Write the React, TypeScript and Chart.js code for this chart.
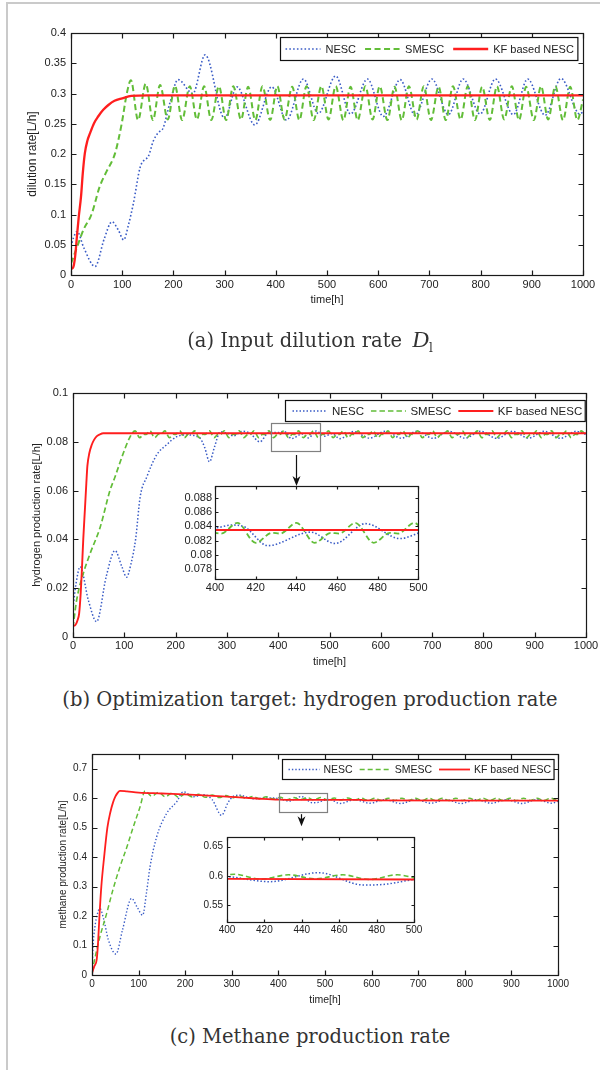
import React, { useEffect, useRef } from 'react';
import { Chart, registerables } from 'chart.js';

Chart.register(...registerables);

const SANS = "'Liberation Sans', Arial, Helvetica, sans-serif";
const SERIF = "'DejaVu Serif', serif";

const SERIES_NAMES = ['NESC', 'SMESC', 'KF based NESC'];
const TIME_TICKS = [0, 100, 200, 300, 400, 500, 600, 700, 800, 900, 1000];
const INSET_TIME_TICKS = [400, 420, 440, 460, 480, 500];

const A_Y_TICKS = [0, 0.05, 0.1, 0.15, 0.2, 0.25, 0.3, 0.35, 0.4];
const B_Y_TICKS = [0, 0.02, 0.04, 0.06, 0.08, 0.1];
const C_Y_TICKS = [0, 0.1, 0.2, 0.3, 0.4, 0.5, 0.6, 0.7];
const B_INSET_Y_TICKS = [0.078, 0.08, 0.082, 0.084, 0.086, 0.088];
const C_INSET_Y_TICKS = [0.55, 0.6, 0.65];

// ---------- (a) input dilution rate ----------
const A_NESC_T = [0, 5, 12, 25, 47, 65, 80, 92, 103, 112, 122, 135, 143, 151, 161, 170, 180, 193, 209, 238, 262, 300, 324, 359, 392, 421, 454, 483, 517, 546, 579, 610, 643, 672, 705, 737, 766, 799, 829, 864, 892, 926, 957, 994, 1000];
const A_NESC_V = [0.047, 0.062, 0.072, 0.045, 0.014, 0.060, 0.088, 0.075, 0.058, 0.082, 0.119, 0.178, 0.190, 0.196, 0.222, 0.235, 0.243, 0.284, 0.323, 0.300, 0.364, 0.259, 0.311, 0.248, 0.311, 0.256, 0.324, 0.267, 0.329, 0.266, 0.324, 0.262, 0.323, 0.264, 0.324, 0.265, 0.324, 0.266, 0.324, 0.265, 0.324, 0.264, 0.325, 0.266, 0.270];
const A_SMESC_T = [0, 10, 25, 40, 56, 70, 86, 99, 109, 117,
  131, 146, 160, 174, 189, 203, 217, 232, 246, 260,
  274, 289, 303, 317, 332, 346, 360, 374, 389, 403,
  417, 432, 446, 460, 474, 489, 503, 517, 532, 546,
  560, 575, 589, 603, 618, 632, 646, 660, 675, 689,
  703, 718, 732, 746, 761, 775, 789, 803, 818, 832,
  846, 861, 875, 889, 904, 918, 932, 946, 961, 975,
  989, 1000];
const A_SMESC_V = [0.019, 0.042, 0.076, 0.100, 0.146, 0.172, 0.201, 0.250, 0.300, 0.322,
  0.256, 0.316, 0.256, 0.314, 0.257, 0.313, 0.256, 0.312, 0.257, 0.312,
  0.256, 0.312, 0.256, 0.312, 0.257, 0.311, 0.256, 0.312, 0.256, 0.312,
  0.257, 0.311, 0.256, 0.312, 0.256, 0.312, 0.257, 0.312, 0.256, 0.311,
  0.256, 0.312, 0.257, 0.312, 0.256, 0.311, 0.256, 0.312, 0.257, 0.312,
  0.256, 0.311, 0.256, 0.312, 0.257, 0.312, 0.256, 0.311, 0.256, 0.312,
  0.257, 0.312, 0.256, 0.311, 0.256, 0.312, 0.257, 0.312, 0.256, 0.311,
  0.256, 0.290];
const A_KF_T = [0, 4, 8, 11, 15, 19.5, 23, 27, 32, 37, 45, 53, 63, 73, 85, 100, 118, 150, 1000];
const A_KF_V = [0.010, 0.012, 0.030, 0.058, 0.095, 0.129, 0.168, 0.201, 0.222, 0.234, 0.251, 0.262, 0.273, 0.281, 0.288, 0.292, 0.296, 0.297, 0.297];

// ---------- (b) hydrogen production rate ----------
const B_NESC_T = [0, 6, 14, 30, 46, 65, 82, 95, 104.5, 113, 122, 131, 144, 163, 182, 202, 222, 247, 257, 266, 276, 287, 300, 313, 330, 345, 364, 382, 400, 408, 414, 426, 447, 459, 474, 491, 505, 520, 547, 578, 609, 640, 671, 702, 733, 764, 795, 826, 857, 888, 919, 950, 981, 1000];
const B_NESC_V = [0.012, 0.022, 0.0288, 0.015, 0.0063, 0.025, 0.0354, 0.029, 0.0245, 0.030, 0.040, 0.0575, 0.0657, 0.0746, 0.0787, 0.0821, 0.0828, 0.0816, 0.0775, 0.0718, 0.078, 0.0841, 0.0836, 0.0824, 0.0843, 0.0835, 0.0800, 0.0838, 0.0838, 0.0842, 0.0840, 0.0813, 0.0832, 0.0816, 0.0844, 0.0823, 0.0834, 0.0813, 0.0842, 0.0815, 0.0843, 0.0815, 0.0843, 0.0814, 0.0843, 0.0815, 0.0843, 0.0814, 0.0843, 0.0815, 0.0843, 0.0814, 0.0843, 0.0830];
const B_SMESC_T = [0, 7, 20, 33, 53, 72, 82, 98, 110,
  121, 130, 138, 142, 150, 159, 167, 171, 179, 188, 196, 200,
  208, 217, 225, 229, 237, 246, 254, 258, 266, 275, 283, 287,
  295, 304, 312, 316, 324, 333, 341, 345, 353, 362, 370, 374,
  382, 391, 399, 403, 411, 420, 428, 432, 440, 449, 457, 461,
  469, 478, 486, 490, 498, 507, 515, 519, 527, 536, 544, 548,
  556, 565, 573, 577, 585, 594, 602, 606, 614, 623, 631, 635,
  643, 652, 660, 664, 672, 681, 689, 693, 701, 710, 718, 722,
  730, 739, 747, 751, 759, 768, 776, 780, 788, 797, 805, 809,
  817, 826, 834, 838, 846, 855, 863, 867, 875, 884, 892, 896,
  904, 913, 921, 925, 933, 942, 950, 954, 962, 971, 979, 983,
  991, 1000];
const B_SMESC_V = [0.004, 0.015, 0.026, 0.034, 0.045, 0.060, 0.0657, 0.0753, 0.0815,
  0.0845, 0.0817, 0.0831, 0.0830, 0.0845, 0.0817, 0.0831, 0.0830, 0.0845, 0.0817, 0.0831, 0.0830,
  0.0845, 0.0817, 0.0831, 0.0830, 0.0845, 0.0817, 0.0831, 0.0830, 0.0845, 0.0817, 0.0831, 0.0830,
  0.0845, 0.0817, 0.0831, 0.0830, 0.0845, 0.0817, 0.0831, 0.0830, 0.0845, 0.0817, 0.0831, 0.0830,
  0.0845, 0.0817, 0.0831, 0.0830, 0.0845, 0.0817, 0.0831, 0.0830, 0.0845, 0.0817, 0.0831, 0.0830,
  0.0845, 0.0817, 0.0831, 0.0830, 0.0845, 0.0817, 0.0831, 0.0830, 0.0845, 0.0817, 0.0831, 0.0830,
  0.0845, 0.0817, 0.0831, 0.0830, 0.0845, 0.0817, 0.0831, 0.0830, 0.0845, 0.0817, 0.0831, 0.0830,
  0.0845, 0.0817, 0.0831, 0.0830, 0.0845, 0.0817, 0.0831, 0.0830, 0.0845, 0.0817, 0.0831, 0.0830,
  0.0845, 0.0817, 0.0831, 0.0830, 0.0845, 0.0817, 0.0831, 0.0830, 0.0845, 0.0817, 0.0831, 0.0830,
  0.0845, 0.0817, 0.0831, 0.0830, 0.0845, 0.0817, 0.0831, 0.0830, 0.0845, 0.0817, 0.0831, 0.0830,
  0.0845, 0.0817, 0.0831, 0.0830, 0.0845, 0.0817, 0.0831, 0.0830, 0.0845, 0.0817, 0.0831, 0.0830,
  0.0845, 0.0825];
const B_KF_T = [0, 5, 9, 12, 15, 17, 20, 23.4, 26, 28, 32, 36.4, 41, 46, 52, 59, 70, 1000];
const B_KF_V = [0.0045, 0.005, 0.007, 0.0097, 0.018, 0.026, 0.040, 0.053, 0.063, 0.070, 0.0755, 0.0787, 0.0808, 0.0822, 0.0830, 0.0835, 0.0835, 0.0835];

// ---------- (c) methane production rate ----------
const C_NESC_T = [0, 2, 6, 12, 17, 25, 35, 51.5, 65, 85, 97, 108.7, 117, 124.5, 138.8, 160, 181.7, 196, 218, 240, 258, 278, 292, 303, 317, 346, 375, 400, 423, 449, 473, 485, 500, 510, 532, 564, 596, 629, 662, 695, 727, 760, 792, 825, 857, 890, 922, 955, 987, 1000];
const C_NESC_V = [0.0, 0.09, 0.16, 0.21, 0.226, 0.19, 0.12, 0.071, 0.15, 0.26, 0.23, 0.203, 0.28, 0.367, 0.469, 0.548, 0.588, 0.622, 0.605, 0.612, 0.595, 0.542, 0.585, 0.606, 0.61, 0.598, 0.601, 0.599, 0.5903, 0.6057, 0.5846, 0.586, 0.594, 0.596, 0.582, 0.595, 0.583, 0.595, 0.582, 0.595, 0.583, 0.595, 0.582, 0.595, 0.583, 0.595, 0.582, 0.595, 0.583, 0.590];
const C_SMESC_T = [0, 8, 17, 31.5, 45, 60, 75, 88.7, 103, 114,
  128, 143, 157, 172, 186, 200, 215, 229, 244, 258,
  273, 287, 302, 316, 331, 345, 360, 374, 389, 404,
  418, 433, 447, 462, 476, 491, 505, 520, 534, 549,
  563, 578, 592, 607, 621, 636, 650, 665, 679, 694,
  708, 723, 737, 752, 766, 781, 795, 810, 824, 839,
  853, 868, 882, 897, 911, 926, 940, 955, 969, 984,
  998, 1000];
const C_SMESC_V = [0.010, 0.070, 0.130, 0.209, 0.290, 0.367, 0.435, 0.503, 0.570, 0.625,
  0.607, 0.620, 0.605, 0.617, 0.603, 0.615, 0.604, 0.613, 0.603, 0.611,
  0.602, 0.609, 0.601, 0.608, 0.599, 0.606, 0.598, 0.605, 0.597, 0.603,
  0.5945, 0.602, 0.595, 0.602, 0.594, 0.602, 0.5945, 0.601, 0.594, 0.601,
  0.594, 0.600, 0.5925, 0.600, 0.592, 0.600, 0.5925, 0.600, 0.592, 0.600,
  0.5925, 0.600, 0.592, 0.600, 0.5925, 0.600, 0.592, 0.600, 0.5925, 0.600,
  0.592, 0.600, 0.5925, 0.600, 0.592, 0.600, 0.5925, 0.600, 0.592, 0.600,
  0.593, 0.594];
const C_KF_T = [0, 5, 10, 13, 16, 20, 26, 33, 39, 45, 50, 55, 60, 75, 100, 150, 210, 280, 353, 400, 500, 578, 585, 1000];
const C_KF_V = [0.006, 0.030, 0.051, 0.110, 0.200, 0.300, 0.400, 0.500, 0.550, 0.585, 0.605, 0.618, 0.625, 0.623, 0.619, 0.616, 0.612, 0.606, 0.599, 0.595, 0.594, 0.594, 0.5925, 0.592];

const BLUE = '#3a5cc6';
const GREEN = '#62bd38';
const RED = '#ff1e1e';

type SeriesDef = { t: number[]; v: number[]; color: string; dash: number[]; width: number };
type LegendDef = { right: number; top: number; h: number; font: number; sample: number; padL: number; gap: number; itemGap: number; padR: number };
type PanelDef = {
  w: number; h: number;
  area: { l: number; t: number; r: number; b: number };
  x: { min: number; max: number; ticks: number[] };
  y: { min: number; max: number; ticks: number[] };
  tickFont: number; xTickPad: number; yTickPad: number; tickLen: number;
  xTitle?: { text: string; size: number; pad: number };
  yTitle?: { text: string; size: number; pad: number };
  series: SeriesDef[];
  legend?: LegendDef;
  zoom?: { x0: number; x1: number; y0: number; y1: number };
  arrow?: { x: number; y0: number; y1: number };
  whiteBg?: boolean;
};

const mk = (t: number[], v: number[], color: string, dash: number[], width: number): SeriesDef => ({ t, v, color, dash, width });

const fmt = (v: any) => {
  const n = Number(v);
  return n === 0 ? '0' : String(parseFloat(n.toFixed(4)));
};

const PANEL_A: PanelDef = {
  w: 602, h: 320,
  area: { l: 71, t: 33, r: 583, b: 275 },
  x: { min: 0, max: 1000, ticks: TIME_TICKS },
  y: { min: 0, max: 0.4, ticks: A_Y_TICKS },
  tickFont: 11, xTickPad: 3.5, yTickPad: 5, tickLen: 5,
  xTitle: { text: 'time[h]', size: 11, pad: 13.4 },
  yTitle: { text: 'dilution rate[L/h]', size: 12, pad: 25.8 },
  series: [
    mk(A_NESC_T, A_NESC_V, BLUE, [1.6, 2.2], 1.6),
    mk(A_SMESC_T, A_SMESC_V, GREEN, [6, 3.5], 2),
    mk(A_KF_T, A_KF_V, RED, [], 2.3),
  ],
  legend: { right: 6, top: 4, h: 23, font: 11, sample: 35, padL: 5, gap: 5, itemGap: 9, padR: 4 },
};

const PANEL_B: PanelDef = {
  w: 602, h: 340,
  area: { l: 73, t: 53, r: 586, b: 297 },
  x: { min: 0, max: 1000, ticks: TIME_TICKS },
  y: { min: 0, max: 0.1, ticks: B_Y_TICKS },
  tickFont: 11, xTickPad: 2.4, yTickPad: 5, tickLen: 5,
  xTitle: { text: 'time[h]', size: 11, pad: 11.4 },
  yTitle: { text: 'hydrogen production rate[L/h]', size: 11, pad: 30.4 },
  series: [
    mk(B_NESC_T, B_NESC_V, BLUE, [1.5, 2], 1.5),
    mk(B_SMESC_T, B_SMESC_V, GREEN, [5.5, 3], 1.7),
    mk(B_KF_T, B_KF_V, RED, [], 1.9),
  ],
  legend: { right: 1, top: 7, h: 21, font: 11.5, sample: 35, padL: 7, gap: 4.5, itemGap: 7, padR: 3 },
  zoom: { x0: 386, x1: 482, y0: 0.0762, y1: 0.0877 },
  arrow: { x: 435, y0: 0.0746, y1: 0.0619 },
};

const PANEL_C: PanelDef = {
  w: 602, h: 300,
  area: { l: 92, t: 34, r: 558, b: 255 },
  x: { min: 0, max: 1000, ticks: TIME_TICKS },
  y: { min: 0, max: 0.75, ticks: C_Y_TICKS },
  tickFont: 10, xTickPad: 3, yTickPad: 5, tickLen: 5,
  xTitle: { text: 'time[h]', size: 10.5, pad: 13.7 },
  yTitle: { text: 'methane production rate[L/h]', size: 10, pad: 57 },
  series: [
    mk(C_NESC_T, C_NESC_V, BLUE, [1.4, 2], 1.4),
    mk(C_SMESC_T, C_SMESC_V, GREEN, [5, 3], 1.5),
    mk(C_KF_T, C_KF_V, RED, [], 1.8),
  ],
  legend: { right: 4.7, top: 5, h: 20, font: 10.5, sample: 31, padL: 6, gap: 4, itemGap: 7, padR: 3 },
  zoom: { x0: 402, x1: 505, y0: 0.5515, y1: 0.616 },
  arrow: { x: 448, y0: 0.5458, y1: 0.505 },
};

const INSET_B: PanelDef = {
  w: 280, h: 130,
  area: { l: 65, t: 10, r: 269, b: 103 },
  x: { min: 400, max: 500, ticks: INSET_TIME_TICKS },
  y: { min: 0.0766, max: 0.0897, ticks: B_INSET_Y_TICKS },
  tickFont: 11, xTickPad: 2.4, yTickPad: 3, tickLen: 3,
  series: [
    mk(B_NESC_T, B_NESC_V, BLUE, [1.5, 2], 1.6),
    mk(B_SMESC_T, B_SMESC_V, GREEN, [5.5, 3], 1.8),
    mk(B_KF_T, B_KF_V, RED, [], 1.9),
  ],
  whiteBg: true,
};

const INSET_C: PanelDef = {
  w: 260, h: 115,
  area: { l: 57, t: 10, r: 244, b: 95 },
  x: { min: 400, max: 500, ticks: INSET_TIME_TICKS },
  y: { min: 0.5215, max: 0.6665, ticks: C_INSET_Y_TICKS },
  tickFont: 10, xTickPad: 2, yTickPad: 4, tickLen: 3,
  series: [
    mk(C_NESC_T, C_NESC_V, BLUE, [1.5, 2], 1.5),
    mk(C_SMESC_T, C_SMESC_V, GREEN, [5, 3], 1.6),
    mk(C_KF_T, C_KF_V, RED, [], 1.8),
  ],
  whiteBg: true,
};

function drawLegend(ctx: CanvasRenderingContext2D, ca: any, d: PanelDef) {
  const lg = d.legend!;
  ctx.save();
  ctx.font = `${lg.font}px ${SANS}`;
  const widths = SERIES_NAMES.map((n) => ctx.measureText(n).width);
  let w = lg.padL + lg.padR;
  widths.forEach((tw, i) => {
    w += lg.sample + lg.gap + tw + (i < widths.length - 1 ? lg.itemGap : 0);
  });
  const x0 = Math.round(ca.right - lg.right - w) + 0.5;
  const y0 = Math.round(ca.top + lg.top) + 0.5;
  ctx.fillStyle = '#ffffff';
  ctx.fillRect(x0, y0, w, lg.h);
  ctx.strokeStyle = '#111';
  ctx.lineWidth = 1.2;
  ctx.setLineDash([]);
  ctx.strokeRect(x0, y0, w, lg.h);
  const cy = y0 + lg.h / 2;
  let x = x0 + lg.padL;
  d.series.forEach((s, i) => {
    ctx.beginPath();
    ctx.setLineDash(s.dash);
    ctx.strokeStyle = s.color;
    ctx.lineWidth = s.width;
    ctx.moveTo(x, cy);
    ctx.lineTo(x + lg.sample, cy);
    ctx.stroke();
    x += lg.sample + lg.gap;
    ctx.setLineDash([]);
    ctx.fillStyle = '#222';
    ctx.textAlign = 'left';
    ctx.textBaseline = 'middle';
    ctx.fillText(SERIES_NAMES[i], x, cy + 0.5);
    x += widths[i] + lg.itemGap;
  });
  ctx.restore();
}

function framePlugin(d: PanelDef) {
  return {
    id: 'frame',
    beforeDraw(chart: any) {
      if (!d.whiteBg) return;
      const { ctx, chartArea: ca } = chart;
      ctx.save();
      ctx.fillStyle = '#ffffff';
      ctx.fillRect(ca.left, ca.top, ca.right - ca.left, ca.bottom - ca.top);
      ctx.restore();
    },
    afterDraw(chart: any) {
      const { ctx, chartArea: ca, scales } = chart;
      const sx = scales.x;
      const sy = scales.y;
      ctx.save();
      ctx.setLineDash([]);
      if (d.zoom) {
        const z = d.zoom;
        const l = Math.round(sx.getPixelForValue(z.x0)) + 0.5;
        const r = Math.round(sx.getPixelForValue(z.x1)) + 0.5;
        const t = Math.round(sy.getPixelForValue(z.y1)) + 0.5;
        const b = Math.round(sy.getPixelForValue(z.y0)) + 0.5;
        ctx.strokeStyle = '#808080';
        ctx.lineWidth = 1.2;
        ctx.strokeRect(l, t, r - l, b - t);
      }
      if (d.arrow) {
        const a = d.arrow;
        const x = Math.round(sx.getPixelForValue(a.x)) + 0.5;
        const ya = sy.getPixelForValue(a.y0);
        const yb = sy.getPixelForValue(a.y1);
        ctx.strokeStyle = '#111';
        ctx.fillStyle = '#111';
        ctx.lineWidth = 1.2;
        ctx.beginPath();
        ctx.moveTo(x, ya);
        ctx.lineTo(x, yb - 4);
        ctx.stroke();
        ctx.beginPath();
        ctx.moveTo(x, yb);
        ctx.lineTo(x - 4, yb - 10);
        ctx.lineTo(x, yb - 7);
        ctx.lineTo(x + 4, yb - 10);
        ctx.closePath();
        ctx.fill();
      }
      const L = Math.round(ca.left) + 0.5;
      const R = Math.round(ca.right) + 0.5;
      const T = Math.round(ca.top) + 0.5;
      const B = Math.round(ca.bottom) + 0.5;
      ctx.strokeStyle = '#1a1a1a';
      ctx.lineWidth = 1.2;
      ctx.strokeRect(L, T, R - L, B - T);
      ctx.beginPath();
      d.x.ticks.forEach((v) => {
        const px = Math.round(sx.getPixelForValue(v)) + 0.5;
        ctx.moveTo(px, B);
        ctx.lineTo(px, B - d.tickLen);
        ctx.moveTo(px, T);
        ctx.lineTo(px, T + d.tickLen);
      });
      d.y.ticks.forEach((v) => {
        const py = Math.round(sy.getPixelForValue(v)) + 0.5;
        ctx.moveTo(L, py);
        ctx.lineTo(L + d.tickLen, py);
        ctx.moveTo(R, py);
        ctx.lineTo(R - d.tickLen, py);
      });
      ctx.stroke();
      ctx.restore();
      if (d.legend) drawLegend(ctx, ca, d);
    },
  };
}

function buildConfig(d: PanelDef): any {
  const datasets = d.series.map((s, i) => ({
    label: SERIES_NAMES[i],
    data: s.t.map((x, j) => ({ x, y: s.v[j] })),
    borderColor: s.color,
    backgroundColor: s.color,
    borderWidth: s.width,
    borderDash: s.dash,
    borderCapStyle: 'butt',
    pointRadius: 0,
    fill: false,
    cubicInterpolationMode: 'monotone',
    order: d.series.length - 1 - i,
  }));
  const tickFont = { family: SANS, size: d.tickFont };
  return {
    type: 'line',
    data: { datasets },
    options: {
      animation: false,
      responsive: false,
      devicePixelRatio: 1,
      events: [],
      layout: { padding: { left: 0, top: d.area.t, right: d.w - d.area.r, bottom: 0 } },
      plugins: { legend: { display: false }, tooltip: { enabled: false }, title: { display: false } },
      scales: {
        x: {
          type: 'linear',
          min: d.x.min,
          max: d.x.max,
          afterBuildTicks: (s: any) => { s.ticks = d.x.ticks.map((value) => ({ value })); },
          afterFit: (s: any) => { s.height = d.h - d.area.b; },
          grid: { display: false, drawTicks: false },
          border: { display: false },
          ticks: { autoSkip: false, maxRotation: 0, minRotation: 0, padding: d.xTickPad, color: '#222', font: tickFont, callback: fmt },
          title: d.xTitle
            ? { display: true, text: d.xTitle.text, color: '#222', font: { family: SANS, size: d.xTitle.size }, padding: { top: 0, bottom: d.xTitle.pad } }
            : { display: false },
        },
        y: {
          type: 'linear',
          min: d.y.min,
          max: d.y.max,
          afterBuildTicks: (s: any) => { s.ticks = d.y.ticks.map((value) => ({ value })); },
          afterFit: (s: any) => { s.width = d.area.l; },
          grid: { display: false, drawTicks: false },
          border: { display: false },
          ticks: { autoSkip: false, padding: d.yTickPad, color: '#222', font: tickFont, callback: fmt },
          title: d.yTitle
            ? { display: true, text: d.yTitle.text, color: '#222', font: { family: SANS, size: d.yTitle.size }, padding: { top: d.yTitle.pad, bottom: 0 } }
            : { display: false },
        },
      },
    },
    plugins: [framePlugin(d)],
  };
}

function ChartCanvas({ def, left, top }: { def: PanelDef; left: number; top: number }) {
  const ref = useRef<HTMLCanvasElement>(null);
  useEffect(() => {
    const chart = new Chart(ref.current as HTMLCanvasElement, buildConfig(def));
    return () => chart.destroy();
  }, [def]);
  return (
    <canvas
      ref={ref}
      width={def.w}
      height={def.h}
      style={{ position: 'absolute', left, top, width: def.w, height: def.h }}
    />
  );
}

function Caption({ cy, children }: { cy: number; children: React.ReactNode }) {
  return (
    <div
      style={{
        position: 'absolute', left: 10, width: 600, top: cy - 13, height: 26, lineHeight: '26px',
        textAlign: 'center', fontFamily: SERIF, fontSize: 19.5, color: '#333', whiteSpace: 'nowrap',
      }}
    >
      {children}
    </div>
  );
}

export default function App() {
  return (
    <div style={{ position: 'absolute', left: 0, top: 0, width: 602, height: 1070, background: '#fff', overflow: 'hidden' }}>
      <div style={{ position: 'absolute', left: 6, top: 2, width: 592, height: 1080, borderLeft: '2px solid #cacaca', borderTop: '2px solid #cacaca' }} />
      <ChartCanvas def={PANEL_A} left={0} top={0} />
      <ChartCanvas def={PANEL_B} left={0} top={340} />
      <ChartCanvas def={PANEL_C} left={0} top={720} />
      <ChartCanvas def={INSET_B} left={150} top={476} />
      <ChartCanvas def={INSET_C} left={170} top={827} />
      <Caption cy={340}>
        (a) Input dilution rate{' '}
        <span style={{ fontFamily: "'Liberation Serif', serif", fontStyle: 'italic', fontSize: 23, marginLeft: 4 }}>D</span>
        <span style={{ fontSize: 12, position: 'relative', top: 5 }}>l</span>
      </Caption>
      <Caption cy={700}>(b) Optimization target: hydrogen production rate</Caption>
      <Caption cy={1037}>(c) Methane production rate</Caption>
    </div>
  );
}
